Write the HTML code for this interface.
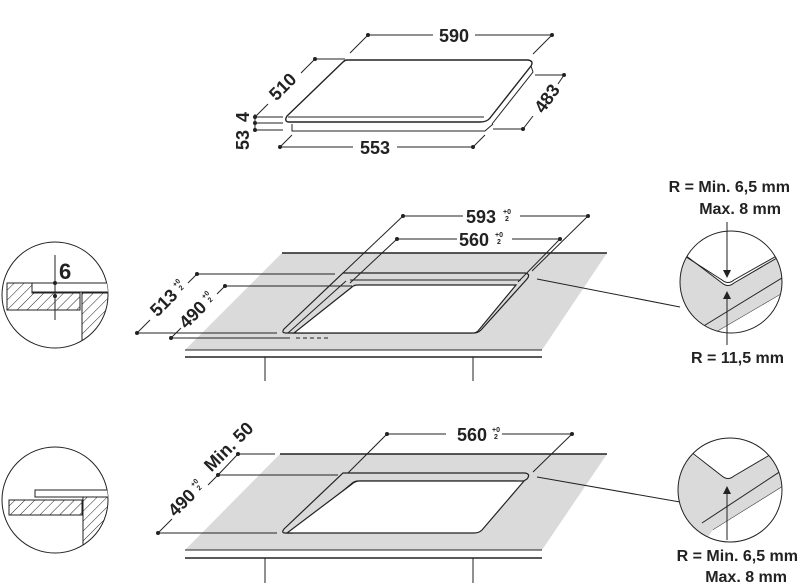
<!DOCTYPE html><html><head><meta charset="utf-8"><style>body{margin:0;background:#fff}svg{display:block}text{font-family:"Liberation Sans",sans-serif;font-weight:bold;fill:#222}</style></head><body>
<svg width="800" height="586" viewBox="0 0 800 586" xmlns="http://www.w3.org/2000/svg">
<defs>
<pattern id="h" width="7" height="7" patternUnits="userSpaceOnUse" patternTransform="rotate(45)"><line x1="0" y1="0" x2="0" y2="7" stroke="#222" stroke-width="1"/></pattern>
<clipPath id="c1"><circle cx="55" cy="295" r="53"/></clipPath>
<clipPath id="c2"><circle cx="55" cy="500" r="53"/></clipPath>
<clipPath id="c3"><circle cx="731" cy="282" r="51"/></clipPath>
<clipPath id="c4"><circle cx="730" cy="490" r="52"/></clipPath>
</defs>
<g stroke="#222" fill="none" stroke-width="1">
<path d="M347,60 L528,60 Q534,61 531,66 L490,118 Q487,122 480,122 L289,122 Q285,122 286,118 L287,116 L343,62 Q345,60 347,60Z" fill="#fff" stroke-width="1.4"/>
<line x1="288" y1="117" x2="484" y2="117"/>
<path d="M531,66 L533,72 L492,124"/>
<path d="M292,124 L292,131 L485,131 L493,124"/>
<line x1="368" y1="35" x2="433" y2="35"/><line x1="475" y1="35" x2="552" y2="35"/>
<line x1="368" y1="35" x2="350" y2="53"/><line x1="552" y1="35" x2="533" y2="54"/>
<line x1="315" y1="59" x2="345" y2="59"/><line x1="315" y1="59" x2="301" y2="73"/><line x1="268" y1="104" x2="255" y2="117"/>
<line x1="255" y1="117" x2="283" y2="117"/><line x1="255" y1="123" x2="283" y2="123"/><line x1="255" y1="130" x2="283" y2="130"/>
<line x1="255" y1="114" x2="255" y2="131"/>
<line x1="280" y1="147" x2="353" y2="147"/><line x1="397" y1="147" x2="473" y2="147"/>
<line x1="280" y1="147" x2="292" y2="135"/><line x1="473" y1="147" x2="485" y2="135"/>
<line x1="535" y1="75" x2="564" y2="75"/><line x1="564" y1="75" x2="558" y2="84"/><line x1="533" y1="116" x2="523" y2="129"/><line x1="493" y1="129" x2="523" y2="129"/>
</g>
<g fill="#222">
<circle cx="368" cy="35" r="2"/><circle cx="552" cy="35" r="2"/><circle cx="315" cy="59" r="2"/><circle cx="255" cy="117" r="2"/><circle cx="255" cy="123" r="2"/><circle cx="255" cy="130" r="2"/><circle cx="280" cy="147" r="2"/><circle cx="473" cy="147" r="2"/><circle cx="564" cy="75" r="2"/><circle cx="523" cy="129" r="2"/>
</g>
<text x="454" y="42" font-size="18" text-anchor="middle">590</text>
<text x="375" y="154" font-size="18" text-anchor="middle">553</text>
<text transform="translate(287,91) rotate(-45)" font-size="18" text-anchor="middle">510</text>
<text transform="translate(552,102) rotate(-55)" font-size="18" text-anchor="middle">483</text>
<text transform="translate(249,117) rotate(-90)" font-size="18" text-anchor="middle">4</text>
<text transform="translate(249,140) rotate(-90)" font-size="18" text-anchor="middle">53</text>

<polygon points="282,253 607,253 542,350 185,350" fill="#dadada"/>
<g stroke="#222" fill="none">
<line x1="282" y1="253" x2="607" y2="253" stroke-width="1.4"/>
<line x1="185" y1="350" x2="542" y2="350"/><line x1="185" y1="357" x2="542" y2="357" stroke-width="1.4"/>
<line x1="265" y1="357" x2="265" y2="381"/><line x1="473" y1="357" x2="473" y2="381"/>
<path d="M343,273 L525,273 Q531,274 527,279 L481,330 Q478,333 474,333 L286,333 Q281,333 284,329 Z" fill="#dadada" stroke-width="1.2"/>
<path d="M350,280 L521,280"/>
<path d="M352,287 Q354,285 358,285 L516,285 L478,331 Q476,333 472,333 L294,333 Z" fill="#fff" stroke-width="1.2"/>
<path d="M346,281 L288,333"/>
<line x1="403" y1="216" x2="463" y2="216"/><line x1="520" y1="216" x2="588" y2="216"/>
<line x1="403" y1="216" x2="343" y2="273"/><line x1="588" y1="216" x2="532" y2="271"/>
<line x1="397" y1="239" x2="457" y2="239"/><line x1="512" y1="239" x2="560" y2="239"/>
<line x1="397" y1="239" x2="350" y2="283"/><line x1="560" y1="239" x2="518" y2="282"/>
<line x1="197" y1="274" x2="335" y2="274"/><line x1="137" y1="333" x2="277" y2="333"/>
<line x1="197" y1="274" x2="188" y2="283"/><line x1="150" y1="320" x2="137" y2="333"/>
<line x1="225" y1="286" x2="352" y2="286"/><line x1="171" y1="338" x2="290" y2="338"/>
<line x1="225" y1="286" x2="217" y2="294"/><line x1="181" y1="328" x2="171" y2="338"/>
<line x1="296" y1="338" x2="330" y2="338" stroke-dasharray="4,3"/>
<line x1="537" y1="279" x2="680" y2="307"/>
</g>
<g fill="#222"><circle cx="403" cy="216" r="2"/><circle cx="588" cy="216" r="2"/><circle cx="397" cy="239" r="2"/><circle cx="560" cy="239" r="2"/><circle cx="197" cy="274" r="2"/><circle cx="137" cy="333" r="2"/><circle cx="225" cy="286" r="2"/><circle cx="171" cy="338" r="2"/></g>
<text x="481" y="223" font-size="18" text-anchor="middle">593</text><text x="503" y="214" font-size="7">+0</text><text x="505" y="221" font-size="7">2</text>
<text x="474" y="246" font-size="18" text-anchor="middle">560</text><text x="495" y="237" font-size="7">+0</text><text x="497" y="244" font-size="7">2</text>
<g transform="translate(168,307) rotate(-45)"><text x="0" y="0" font-size="18" text-anchor="middle">513</text><text x="19" y="-9" font-size="7">+0</text><text x="21" y="-2" font-size="7">2</text></g>
<g transform="translate(197,319) rotate(-45)"><text x="0" y="0" font-size="18" text-anchor="middle">490</text><text x="19" y="-9" font-size="7">+0</text><text x="21" y="-2" font-size="7">2</text></g>

<circle cx="55" cy="295" r="53" fill="#fff" stroke="#222"/>
<g clip-path="url(#c1)" stroke="#222">
<path d="M7,283 L32,283 L32,293 L80,293 L80,310 L7,310Z" fill="url(#h)"/>
<rect x="32" y="283" width="80" height="9" fill="#fff"/>
<rect x="82" y="293" width="30" height="60" fill="url(#h)"/>
<line x1="55" y1="255" x2="55" y2="320"/>
</g>
<circle cx="55" cy="283" r="2" fill="#222"/><circle cx="55" cy="296" r="2" fill="#222"/>
<text x="59" y="279" font-size="22">6</text>

<circle cx="731" cy="282" r="51" fill="#fff"/>
<g clip-path="url(#c3)" stroke="#222" fill="none">
<path d="M675,248 L722,283 Q728,288 734,283 L790,248 L790,290 L700,345 L675,345Z" fill="#dadada" stroke="none"/>
<path d="M685,255 L722,283 Q728,288 734,283 L777,258"/>
<path d="M680,253 L722,280 Q728,285 734,280 L780,254"/>
<line x1="702" y1="327" x2="790" y2="273"/><line x1="713" y1="334" x2="790" y2="289"/>
<path d="M713,334 L790,289 L790,345 L700,345Z" fill="#fff" stroke="none"/>
</g>
<circle cx="731" cy="282" r="51" fill="none" stroke="#222"/>
<g stroke="#222"><line x1="727" y1="222" x2="727" y2="272"/><line x1="727" y1="298" x2="727" y2="345"/></g>
<polygon points="723,270 731,270 727,278" fill="#222"/><polygon points="723,299 731,299 727,291" fill="#222"/>
<text x="790" y="192" font-size="16" text-anchor="end">R = Min. 6,5 mm</text>
<text x="781" y="214" font-size="16" text-anchor="end">Max. 8 mm</text>
<text x="784" y="363" font-size="16" text-anchor="end">R = 11,5 mm</text>

<polygon points="280,454 607,454 542,550 185,550" fill="#dadada"/>
<g stroke="#222" fill="none">
<line x1="280" y1="454" x2="607" y2="454" stroke-width="1.4"/>
<line x1="185" y1="550" x2="542" y2="550"/><line x1="185" y1="558" x2="542" y2="558" stroke-width="1.4"/>
<line x1="265" y1="558" x2="265" y2="583"/><line x1="473" y1="558" x2="473" y2="583"/>
<path d="M343,473 L525,473 Q531,474 527,479 L522,482 L516,481 L358,481 Q354,481 350,485 L293,533 L285,533 Q281,533 284,529 Z" fill="#dadada" stroke-width="1.2"/>
<path d="M352,484 Q355,481 360,481 L524,481 L482,530 Q479,533 474,533 L287,533 Z" fill="#fff" stroke-width="1.2"/>
<line x1="387" y1="434" x2="446" y2="434"/><line x1="502" y1="434" x2="572" y2="434"/>
<line x1="387" y1="434" x2="348" y2="473"/><line x1="572" y1="434" x2="533" y2="472"/>
<line x1="238" y1="454" x2="275" y2="454"/><line x1="218" y1="475" x2="338" y2="475"/><line x1="158" y1="533" x2="277" y2="533"/>
<line x1="238" y1="454" x2="218" y2="475"/><line x1="218" y1="475" x2="208" y2="485"/><line x1="172" y1="519" x2="158" y2="533"/>
<line x1="537" y1="477" x2="680" y2="502"/>
</g>
<g fill="#222"><circle cx="387" cy="434" r="2"/><circle cx="572" cy="434" r="2"/><circle cx="238" cy="454" r="2"/><circle cx="218" cy="475" r="2"/><circle cx="158" cy="533" r="2"/></g>
<text x="472" y="441" font-size="18" text-anchor="middle">560</text><text x="492" y="432" font-size="7">+0</text><text x="494" y="439" font-size="7">2</text>
<text transform="translate(233,451) rotate(-45)" font-size="18" text-anchor="middle">Min. 50</text>
<g transform="translate(186,507) rotate(-45)"><text x="0" y="0" font-size="18" text-anchor="middle">490</text><text x="19" y="-9" font-size="7">+0</text><text x="21" y="-2" font-size="7">2</text></g>

<circle cx="55" cy="500" r="53" fill="#fff" stroke="#222"/>
<g clip-path="url(#c2)" stroke="#222">
<rect x="9" y="500" width="73" height="15" fill="url(#h)"/>
<rect x="35" y="490" width="77" height="7" fill="#fff"/>
<rect x="83" y="497" width="30" height="60" fill="url(#h)"/>
</g>

<circle cx="730" cy="490" r="52" fill="#fff"/>
<g clip-path="url(#c4)" stroke="#222" fill="none">
<path d="M675,442 L722,476 Q728,481 734,476 L790,444 L790,482 L700,548 L675,548Z" fill="#dadada" stroke="none"/>
<path d="M682,445 L722,476 Q728,481 734,476 L780,449"/>
<line x1="702" y1="523" x2="790" y2="465"/><line x1="713" y1="530" x2="790" y2="482"/>
<path d="M713,530 L790,482 L790,548 L700,548Z" fill="#fff" stroke="none"/>
</g>
<circle cx="730" cy="490" r="52" fill="none" stroke="#222"/>
<line x1="727" y1="492" x2="727" y2="540" stroke="#222"/>
<polygon points="723,494 731,494 727,486" fill="#222"/>
<text x="798" y="561" font-size="16" text-anchor="end">R = Min. 6,5 mm</text>
<text x="787" y="582" font-size="16" text-anchor="end">Max. 8 mm</text>
</svg>
</body></html>
